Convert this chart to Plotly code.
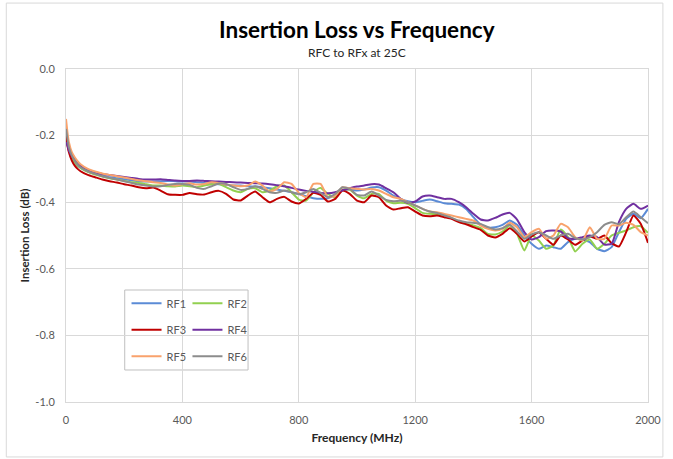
import plotly.graph_objects as go

freq = [0, 5, 10, 20, 30, 40] + list(range(50, 2001, 25))

rf1 = [-0.19, -0.22, -0.24, -0.265, -0.28, -0.29,
       -0.297, -0.308, -0.315, -0.32, -0.325, -0.328, -0.331, -0.334, -0.337, -0.338,
       -0.338, -0.337, -0.336, -0.337, -0.338, -0.338, -0.34, -0.342, -0.344, -0.346,
       -0.348, -0.35, -0.35, -0.352, -0.353, -0.355, -0.358, -0.362, -0.366, -0.37,
       -0.375, -0.382, -0.388, -0.39, -0.388, -0.378, -0.365, -0.362, -0.365, -0.362,
       -0.356, -0.355, -0.365, -0.38, -0.39, -0.397, -0.4, -0.396, -0.392, -0.397,
       -0.403, -0.405, -0.407, -0.42, -0.445, -0.468, -0.476, -0.475, -0.468, -0.455,
       -0.468, -0.5, -0.525, -0.54, -0.53, -0.535, -0.54, -0.52, -0.51, -0.512,
       -0.52, -0.54, -0.547, -0.535, -0.49, -0.45, -0.435, -0.448, -0.42]

rf2 = [-0.18, -0.215, -0.24, -0.265, -0.28, -0.29,
       -0.297, -0.309, -0.317, -0.323, -0.328, -0.332, -0.336, -0.34, -0.342, -0.346,
       -0.35, -0.35, -0.352, -0.353, -0.35, -0.352, -0.355, -0.35, -0.346, -0.345,
       -0.355, -0.365, -0.37, -0.36, -0.358, -0.37, -0.365, -0.352, -0.35, -0.37,
       -0.392, -0.395, -0.37, -0.357, -0.375, -0.385, -0.362, -0.362, -0.38, -0.388,
       -0.375, -0.375, -0.395, -0.403, -0.402, -0.405, -0.418, -0.432, -0.435, -0.436,
       -0.44, -0.448, -0.458, -0.465, -0.47, -0.478, -0.495, -0.497, -0.488, -0.47,
       -0.495, -0.545, -0.5, -0.515, -0.54, -0.53, -0.482, -0.505, -0.548, -0.525,
       -0.512, -0.54, -0.525, -0.5, -0.492, -0.485, -0.475, -0.472, -0.492]

rf3 = [-0.2, -0.23, -0.25, -0.275, -0.29, -0.3,
       -0.307, -0.318, -0.325, -0.332, -0.337, -0.341, -0.346, -0.35, -0.355, -0.358,
       -0.356, -0.365, -0.376, -0.378, -0.378, -0.372, -0.376, -0.377, -0.37, -0.366,
       -0.375, -0.392, -0.395, -0.38, -0.368, -0.385, -0.4, -0.39, -0.384, -0.398,
       -0.404, -0.39, -0.372, -0.378, -0.398, -0.39, -0.365, -0.375, -0.395, -0.4,
       -0.38, -0.385, -0.41, -0.422, -0.418, -0.415, -0.428, -0.44, -0.442, -0.44,
       -0.445, -0.45, -0.46, -0.466, -0.475, -0.483, -0.5, -0.506, -0.495, -0.478,
       -0.495, -0.518, -0.503, -0.49, -0.51, -0.528, -0.5, -0.512, -0.528, -0.515,
       -0.503, -0.51, -0.5, -0.523, -0.533, -0.49, -0.44, -0.465, -0.522]

rf4 = [-0.22, -0.23, -0.245, -0.26, -0.272, -0.282,
       -0.29, -0.302, -0.31, -0.315, -0.318, -0.321, -0.324, -0.327, -0.33, -0.332,
       -0.332, -0.331, -0.333, -0.335, -0.336, -0.336, -0.335, -0.336, -0.337, -0.338,
       -0.339, -0.34, -0.341, -0.342, -0.343, -0.344, -0.346, -0.349, -0.352, -0.357,
       -0.362, -0.366, -0.369, -0.372, -0.373, -0.37, -0.364, -0.358, -0.353, -0.35,
       -0.346, -0.347, -0.358, -0.37, -0.39, -0.402, -0.398, -0.383, -0.38, -0.385,
       -0.39, -0.39, -0.4, -0.415, -0.435, -0.452, -0.455, -0.447, -0.437, -0.432,
       -0.452, -0.49, -0.512, -0.505, -0.487, -0.485, -0.488, -0.508, -0.51, -0.505,
       -0.5, -0.505, -0.527, -0.525, -0.46, -0.42, -0.405, -0.42, -0.41]

rf5 = [-0.15, -0.19, -0.22, -0.25, -0.265, -0.277,
       -0.286, -0.3, -0.308, -0.314, -0.318, -0.322, -0.326, -0.33, -0.334, -0.337,
       -0.34, -0.342, -0.347, -0.35, -0.346, -0.343, -0.347, -0.345, -0.34, -0.342,
       -0.347, -0.35, -0.352, -0.35, -0.338, -0.35, -0.368, -0.36, -0.34, -0.345,
       -0.372, -0.385, -0.345, -0.345, -0.385, -0.38, -0.355, -0.358, -0.36, -0.362,
       -0.36, -0.365, -0.375, -0.385, -0.39, -0.4, -0.41, -0.42, -0.428, -0.43,
       -0.435, -0.44, -0.445, -0.45, -0.455, -0.47, -0.48, -0.485, -0.48, -0.462,
       -0.475, -0.505, -0.49, -0.48, -0.51, -0.5, -0.465, -0.475, -0.505, -0.515,
       -0.475, -0.51, -0.51, -0.47, -0.47, -0.462, -0.468, -0.49, -0.5]

rf6 = [-0.18, -0.21, -0.235, -0.26, -0.275, -0.287,
       -0.295, -0.307, -0.315, -0.322, -0.327, -0.332, -0.337, -0.342, -0.347, -0.35,
       -0.353, -0.352, -0.348, -0.345, -0.345, -0.348, -0.357, -0.36, -0.352, -0.344,
       -0.345, -0.355, -0.363, -0.36, -0.352, -0.36, -0.37, -0.372, -0.365, -0.37,
       -0.376, -0.37, -0.36, -0.372, -0.385, -0.375, -0.355, -0.36, -0.378, -0.38,
       -0.368, -0.38, -0.393, -0.397, -0.396, -0.4, -0.41, -0.42, -0.428, -0.432,
       -0.44, -0.447, -0.455, -0.46, -0.462, -0.465, -0.475, -0.482, -0.478, -0.468,
       -0.488, -0.51, -0.497, -0.49, -0.5, -0.51, -0.5, -0.495, -0.508, -0.512,
       -0.505, -0.49, -0.468, -0.46, -0.466, -0.445, -0.428, -0.445, -0.463]

series_names = ["RF1", "RF2", "RF3", "RF4", "RF5", "RF6"]
series_values = [rf1, rf2, rf3, rf4, rf5, rf6]
series_colors = ["#5B8BD6", "#92D050", "#C00000", "#7030A0", "#F9A26C", "#8C8C8C"]
series_legend = ["legend", "legend2", "legend", "legend2", "legend", "legend2"]

x_ticks = [0, 400, 800, 1200, 1600, 2000]
x_ticktext = ["0", "400", "800", "1200", "1600", "2000"]
y_ticks = [0.0, -0.2, -0.4, -0.6, -0.8, -1.0]
y_ticktext = ["0.0", "-0.2", "-0.4", "-0.6", "-0.8", "-1.0"]

FONT = "Lato"
GRID = "#d9d9d9"
TXT = "#595959"

fig = go.Figure()
for name, vals, col, lg in zip(series_names, series_values, series_colors, series_legend):
    fig.add_trace(go.Scatter(
        x=freq, y=vals, name=name, mode="lines",
        line=dict(color=col, width=2, shape="spline", smoothing=0.5),
        legend=lg, legendgroup=name,
    ))

legend_common = dict(
    bgcolor="rgba(0,0,0,0)", borderwidth=0,
    font=dict(family=FONT, size=11, color=TXT),
    orientation="v", xanchor="left", yanchor="top",
    tracegroupgap=7.5, traceorder="grouped", itemwidth=30,
)

fig.update_layout(
    width=673, height=459,
    margin=dict(l=66, r=22, t=69, b=57),
    paper_bgcolor="white", plot_bgcolor="white",
    font=dict(family=FONT, color=TXT),
    showlegend=True,
    legend=dict(x=0.104, y=0.34, **legend_common),
    legend2=dict(x=0.2087, y=0.34, **legend_common),
    xaxis=dict(
        range=[0, 2000], tickvals=x_ticks, ticktext=x_ticktext,
        showgrid=True, gridcolor=GRID, gridwidth=1,
        showline=True, linecolor=GRID, linewidth=1, mirror=True,
        zeroline=False, ticks="", ticklabelstandoff=8,
        tickfont=dict(family=FONT, size=11, color=TXT),
        title=dict(text="<b>Frequency (MHz)</b>", standoff=8,
                   font=dict(family=FONT, size=12, color="#262626")),
    ),
    yaxis=dict(
        range=[-1.0, 0.0], tickvals=y_ticks, ticktext=y_ticktext,
        showgrid=True, gridcolor=GRID, gridwidth=1,
        showline=True, linecolor=GRID, linewidth=1, mirror=True,
        zeroline=False, ticks="", ticklabelstandoff=8,
        tickfont=dict(family=FONT, size=11, color=TXT),
        title=dict(text="<b>Insertion Loss (dB)</b>", standoff=3,
                   font=dict(family=FONT, size=11.5, color="#262626")),
    ),
    annotations=[
        dict(text="<b>Insertion Loss vs Frequency</b>", xref="paper", yref="paper",
             x=0.5, y=1.12, xanchor="center", yanchor="middle", showarrow=False,
             font=dict(family=FONT, size=22.5, color="#000000")),
        dict(text="RFC to RFx at 25C", xref="paper", yref="paper",
             x=0.5, y=1.051, xanchor="center", yanchor="middle", showarrow=False,
             font=dict(family=FONT, size=12, color="#262626")),
    ],
    shapes=[
        dict(type="rect", xref="paper", yref="paper",
             x0=0.1009, x1=0.3128, y0=0.0961, y1=0.3363,
             line=dict(color="#bfbfbf", width=1), fillcolor="rgba(0,0,0,0)", layer="below"),
        dict(type="rect", xref="paper", yref="paper",
             x0=-0.1026, x1=1.0256, y0=-0.165, y1=1.198,
             line=dict(color="#d9d9d9", width=1), fillcolor="rgba(0,0,0,0)"),
    ],
)

fig.write_html("out.html", config={"displayModeBar": False},
               post_script="document.body.style.margin='0';document.body.style.overflow='hidden';")
